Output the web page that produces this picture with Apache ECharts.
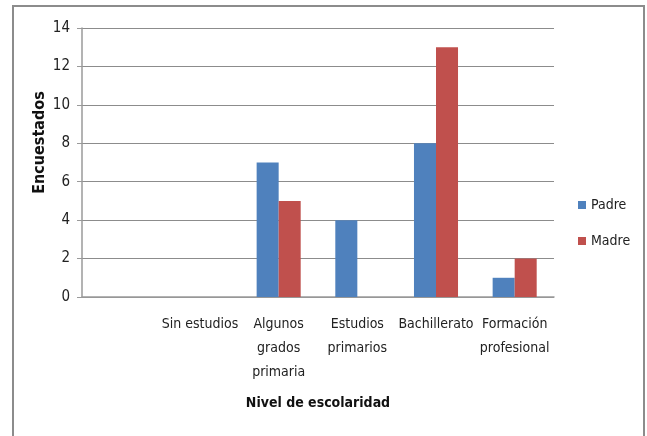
<!DOCTYPE html>
<html>
<head>
<meta charset="utf-8">
<script src="https://cdn.jsdelivr.net/npm/echarts@6/dist/echarts.min.js"></script>
<style>
  html, body { margin: 0; padding: 0; background: #fff; }
  #chart { width: 647px; height: 436px; }
</style>
</head>
<body>
<div id="chart"></div>
<script>
// datos
const categories = ['', 'Sin estudios', 'Algunos\ngrados\nprimaria', 'Estudios\nprimarios', 'Bachillerato', 'Formación\nprofesional']
const padre = [null, 0, 7, 4, 8, 1]
const madre = [null, 0, 5, 0, 13, 2]
const yTicks = [0, 2, 4, 6, 8, 10, 12, 14]

const font = "'DejaVu Sans Condensed', 'Liberation Sans Narrow', sans-serif"
const chart = echarts.init(document.getElementById('chart'))

const option = {
  animation: false,
  color: ['#4F81BD', '#C0504D'],
  textStyle: { fontFamily: font },
  graphic: [
    {
      type: 'rect',
      shape: { x: 13, y: 6, width: 631, height: 450 },
      style: { fill: 'none', stroke: '#8c8c8c', lineWidth: 2 },
      silent: true
    }
  ],
  grid: { left: 82, right: 93, top: 28, bottom: 139 },
  legend: {
    orient: 'vertical',
    left: 573,
    top: 193,
    itemWidth: 8,
    itemHeight: 8,
    itemGap: 22,
    itemStyle: { borderWidth: 0 },
    icon: 'rect',
    textStyle: { fontSize: 14, color: '#222', fontFamily: font },
    data: ['Padre', 'Madre']
  },
  xAxis: {
    type: 'category',
    data: categories,
    axisLine: { lineStyle: { color: '#9a9a9a', width: 1.5 } },
    axisTick: { show: false },
    axisLabel: {
      interval: 0,
      fontSize: 14,
      lineHeight: 24,
      color: '#222',
      margin: 15,
      fontFamily: font
    },
    name: 'Nivel de escolaridad',
    nameLocation: 'middle',
    nameGap: 99,
    nameTextStyle: { fontSize: 14, fontWeight: 'bold', color: '#111', fontFamily: font }
  },
  yAxis: {
    type: 'value',
    min: yTicks[0],
    max: yTicks[yTicks.length - 1],
    interval: 2,
    axisLine: { show: true, lineStyle: { color: '#9a9a9a', width: 1.5 } },
    axisTick: { show: true, length: 5, lineStyle: { color: '#9a9a9a' } },
    splitLine: { lineStyle: { color: '#8c8c8c', width: 1 } },
    axisLabel: { fontSize: 15, color: '#222', margin: 12, fontFamily: font },
    name: 'Encuestados',
    nameLocation: 'middle',
    nameGap: 34,
    nameMoveOverlap: false,
    nameTextStyle: { fontSize: 16, fontWeight: 'bold', color: '#111', fontFamily: font, padding: [0, 0, 0, 40] }
  },
  series: [
    { name: 'Padre', type: 'bar', data: padre, barGap: '0%', barCategoryGap: '44%' },
    { name: 'Madre', type: 'bar', data: madre, barGap: '0%', barCategoryGap: '44%' }
  ]
}

chart.setOption(option)
</script>
</body>
</html>
